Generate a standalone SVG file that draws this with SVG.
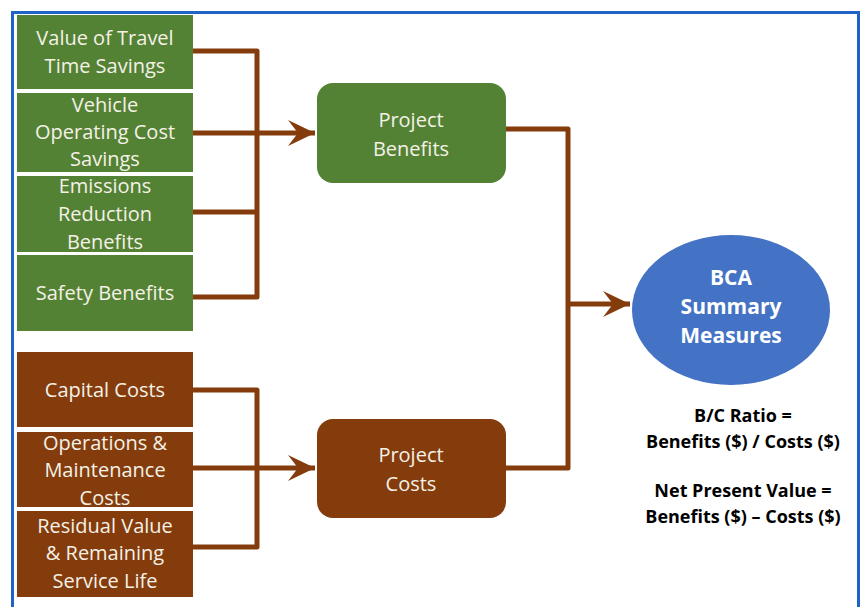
<svg xmlns="http://www.w3.org/2000/svg" width="861" height="607" viewBox="0 0 861 607">
<style>
.frame{fill:none;stroke:#1F63C6;stroke-width:3}
.g{fill:#548235}
.b{fill:#843C0C}
.t{font-family:"Open Sans",Lato,sans-serif;font-size:20px;fill:#F4F1E6;text-anchor:middle}
.bt{font-family:"Open Sans",Lato,sans-serif;font-size:21px;font-weight:bold;fill:#FFFFFF;text-anchor:middle}
.k{font-family:"Open Sans",Lato,sans-serif;font-size:18px;font-weight:bold;fill:#000000;text-anchor:middle}
.c{fill:none;stroke:#843C0C;stroke-width:5;stroke-linejoin:round}
</style>
<defs>
<marker id="ah" markerUnits="userSpaceOnUse" markerWidth="30" markerHeight="30" viewBox="-28 -15 30 30" refX="0" refY="0" orient="auto">
<path d="M0,0 L-27,-13 L-17,0 L-27,13 Z" fill="#843C0C"/>
</marker>
</defs>
<rect width="861" height="607" fill="#FFFFFF"/>
<path class="frame" d="M12.5,607 V12.5 H858.5 V607"/>

<g id="n-vtts"><rect class="g" x="17" y="15" width="176" height="74"/><text class="t" x="105" y="45">Value of Travel</text><text class="t" x="105" y="73">Time Savings</text></g>
<g id="n-vocs"><rect class="g" x="17" y="93" width="176" height="79"/><text class="t" x="105" y="112">Vehicle</text><text class="t" x="105" y="139">Operating Cost</text><text class="t" x="105" y="166">Savings</text></g>
<g id="n-erb"><rect class="g" x="17" y="176" width="176" height="76"/><text class="t" x="105" y="193">Emissions</text><text class="t" x="105" y="221">Reduction</text><text class="t" x="105" y="249">Benefits</text></g>
<g id="n-safety"><rect class="g" x="17" y="255" width="176" height="76"/><text class="t" x="105" y="300">Safety Benefits</text></g>

<g id="n-capital"><rect class="b" x="17" y="352" width="176" height="75"/><text class="t" x="105" y="397">Capital Costs</text></g>
<g id="n-om"><rect class="b" x="17" y="432" width="176" height="75"/><text class="t" x="105" y="450">Operations &amp;</text><text class="t" x="105" y="477">Maintenance</text><text class="t" x="105" y="505">Costs</text></g>
<g id="n-residual"><rect class="b" x="17" y="511" width="176" height="86"/><text class="t" x="105" y="533">Residual Value</text><text class="t" x="105" y="560">&amp; Remaining</text><text class="t" x="105" y="588">Service Life</text></g>

<g id="n-benefits"><rect class="g" x="317" y="83" width="189" height="100" rx="16"/><text class="t" x="411" y="127">Project</text><text class="t" x="411" y="156">Benefits</text></g>
<g id="n-costs"><rect class="b" x="317" y="419" width="189" height="99" rx="16"/><text class="t" x="411" y="462">Project</text><text class="t" x="411" y="491">Costs</text></g>

<g id="n-bca"><ellipse cx="731" cy="310" rx="99" ry="75" fill="#4472C4"/><text class="bt" x="731" y="285">BCA</text><text class="bt" x="731" y="314">Summary</text><text class="bt" x="731" y="343">Measures</text></g>

<g id="n-formulas"><text class="k" x="743" y="422">B/C Ratio =</text><text class="k" x="743" y="448">Benefits ($) / Costs ($)</text><text class="k" x="743" y="497">Net Present Value =</text><text class="k" x="743" y="523">Benefits ($) – Costs ($)</text></g>

<g id="connectors">
<path class="c" d="M193,51 H257 V297 H193"/>
<path class="c" d="M193,212 H257"/>
<path class="c" d="M193,133 H315" marker-end="url(#ah)"/>
<path class="c" d="M193,390 H257 V547 H193"/>
<path class="c" d="M193,468 H315" marker-end="url(#ah)"/>
<path class="c" d="M506,129 H568 V468 H506"/>
<path class="c" d="M568,304 H630" marker-end="url(#ah)"/>
</g>
</svg>
